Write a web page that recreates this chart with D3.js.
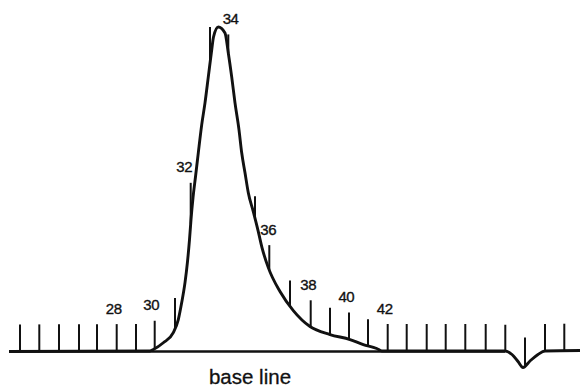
<!DOCTYPE html>
<html><head><meta charset="utf-8">
<script src="https://cdn.jsdelivr.net/npm/d3@7"></script>
<style>html,body{margin:0;padding:0;background:#fff;} svg{display:block;}</style>
</head><body><svg id="c" width="580" height="387"></svg>
<script>
// Elution trace: volume (ml) and absorbance
const traceVolume = [-0.1, 14.0, 14.33, 15.33, 16.33, 16.83, 17.17, 17.5, 17.75, 17.95, 18.1, 18.3, 18.55, 18.83, 19.17, 19.5, 19.83, 20.17, 20.35, 20.83, 21.5, 21.83, 22.17, 22.5, 22.9, 23.17, 23.5, 23.83, 24.33, 24.83, 25.2, 25.83, 27.0, 28.33, 30.0, 32.0, 34.0, 35.33, 36.67, 37.2, 49.5, 50.2, 50.8, 51.3, 52.0, 52.8, 53.5, 57.0];
const traceAbsorbance = [0, 0.002, 0.008, 0.035, 0.076, 0.128, 0.196, 0.276, 0.36, 0.448, 0.528, 0.616, 0.70, 0.796, 0.908, 0.996, 1.10, 1.208, 1.26, 1.30, 1.276, 1.196, 1.10, 0.996, 0.888, 0.796, 0.716, 0.636, 0.56, 0.48, 0.416, 0.336, 0.24, 0.164, 0.10, 0.068, 0.048, 0.028, 0.012, 0.002, 0.002, -0.012, -0.04, -0.064, -0.038, -0.012, 0.002, 0.004];
// Fraction collector marks
const fractionNumbers = [23, 24, 25, 26, 27, 28, 29, 30, 31, 32, 33, 34, 35, 36, 37, 38, 39, 40, 41, 42, 43, 44, 45, 46, 47, 48, 49, 50, 51];
const fractionVolume = [1.0, 2.93, 4.9, 6.9, 8.7, 10.67, 12.6, 14.47, 16.5, 18.07, 20.0, 21.83, 24.5, 25.93, 28.0, 30.07, 32.0, 33.9, 35.8, 37.77, 39.67, 41.67, 43.57, 45.53, 47.57, 49.53, 51.5, 53.5, 55.43];
const labeledFractions = [28, 30, 32, 34, 36, 38, 40, 42];
const baselineLabel = "base line";

const svg = d3.select("#c");
const x = d3.scaleLinear().domain([-0.1, 57]).range([9, 580]);
const y = d3.scaleLinear().domain([0, 1.3]).range([351.5, 27]);

const trace = traceVolume.map((v, i) => ({v, a: traceAbsorbance[i]}));
function absAt(v) {
  for (let i = 0; i < trace.length - 1; i++) {
    const p = trace[i], q = trace[i + 1];
    if (v >= p.v && v <= q.v) return p.a + (q.a - p.a) * (v - p.v) / (q.v - p.v);
  }
  return 0;
}

// straight base line under the trace
svg.append("line")
  .attr("x1", x(-0.1)).attr("x2", x(49.5))
  .attr("y1", y(0)).attr("y2", y(0))
  .attr("stroke", "#111").attr("stroke-width", 2.3);

// trace
const line = d3.line().x(d => x(d.v)).y(d => y(d.a)).curve(d3.curveMonotoneX);
svg.append("path").datum(trace)
  .attr("d", line)
  .attr("fill", "none").attr("stroke", "#111")
  .attr("stroke-width", 2.9).attr("stroke-linejoin", "round");

// fraction ticks
const tickLen = 27, lag = 0.12;
const ticks = fractionNumbers.map((n, i) => {
  const v = fractionVolume[i];
  const yb = y(absAt(v));
  const yt = y(absAt(v + lag)) - tickLen;
  const slope = (y(absAt(v + 0.2)) - y(absAt(v - 0.2))) / (x(v + 0.2) - x(v - 0.2));
  return {n, v, yb, yt, slope};
});
svg.append("g").selectAll("line").data(ticks).join("line")
  .attr("x1", d => x(d.v)).attr("x2", d => x(d.v))
  .attr("y1", d => d.yb).attr("y2", d => d.yt)
  .attr("stroke", "#111").attr("stroke-width", 2);

// labels
svg.append("g").selectAll("text").data(ticks.filter(d => labeledFractions.includes(d.n))).join("text")
  .attr("x", d => x(d.v) - 3 + Math.max(-3.5, Math.min(7, 0.8 * d.slope)))
  .attr("y", d => d.yt - 10.5)
  .attr("text-anchor", "middle")
  .attr("font-family", "'Liberation Sans', Arial, Helvetica, sans-serif")
  .attr("font-size", 15)
  .attr("letter-spacing", -0.5)
  .attr("fill", "#111")
  .attr("stroke", "#111").attr("stroke-width", 0.35)
  .text(d => d.n);

svg.append("text")
  .attr("x", x(24.0)).attr("y", 384)
  .attr("text-anchor", "middle")
  .attr("font-family", "'Liberation Sans', Arial, Helvetica, sans-serif")
  .attr("font-size", 20.5)
  .attr("fill", "#111")
  .attr("stroke", "#111").attr("stroke-width", 0.3)
  .text(baselineLabel);
</script>
</body></html>
